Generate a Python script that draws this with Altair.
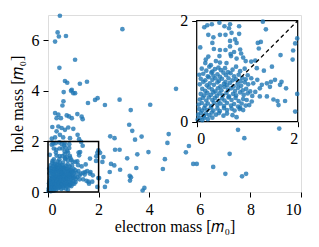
import altair as alt
import pandas as pd

outer_x = [0.47,0.38,0.43,0.71,0.28,2.94,1.07,0.45,0.67,0.76,1.26,1.54,0.94,0.62,0.91,1.0,1.07,0.61,0.57,1.58,1.86,1.96,2.25,2.83,3.27,4.04,
           0.28,0.41,0.34,0.51,0.74,0.83,0.94,1.16,1.33,1.37,0.17,0.41,0.54,0.34,0.67,0.80,1.0,0.47,0.28,0.60,0.87,1.17,1.23,0.15,
           3.21,3.33,2.46,2.63,3.44,3.70,4.77,4.72,5.57,5.45,2.19,2.15,2.65,2.83,3.53,3.97,2.49,2.62,3.13,4.62,5.74,5.88,2.85,2.44,
           3.49,4.54,3.23,3.28,3.24,2.33,2.25,3.81,3.74,2.02,7.51,7.76,9.14,7.18,6.53,7.01,7.67,7.83,5.06,2.06]
outer_y = [6.97,6.31,6.15,6.17,5.95,6.44,5.23,4.91,4.39,4.32,4.28,4.36,4.04,3.95,4.0,3.91,3.91,3.59,3.42,3.52,3.64,3.71,3.44,3.65,3.24,3.45,
           3.12,3.06,2.92,2.92,3.03,2.99,2.92,3.08,2.98,2.88,2.57,2.59,2.53,2.40,2.46,2.55,2.50,2.26,2.16,2.16,2.13,2.26,2.09,2.11,
           2.66,2.42,2.20,2.13,2.07,2.19,2.29,1.94,1.82,1.57,1.38,1.19,1.67,1.67,1.49,1.58,1.11,1.05,1.33,1.30,1.11,1.11,0.88,0.79,
           0.95,0.91,0.64,0.58,0.45,0.42,0.20,0.16,0.06,0.55,2.46,2.13,2.51,1.51,0.99,0.72,0.62,0.72,4.08,1.55]

# points inside the zoom window
inner_x = [0.15,0.21,0.30,0.45,0.55,0.66,0.64,0.84,1.31,1.37,0.07,0.23,0.33,0.46,0.57,0.69,0.84,0.76,0.66,0.31,0.34,0.46,0.57,0.66,
           0.79,0.74,0.86,0.88,0.67,0.45,0.23,0.18,0.17,0.28,0.38,0.46,0.59,0.68,0.79,0.92,0.97,1.16,1.21,1.27,1.23,1.95,1.99,1.91,
           1.66,1.90,1.49,1.08,1.19,1.33,1.55,1.47,1.68,1.77,1.65,1.45,1.39,1.29,1.20,1.25,1.16,1.25,1.39,1.52,1.62,1.60,1.75,1.95,
           1.99,1.09,1.04,0.79,0.92,0.86,
           0.10,0.19,0.25,0.31,0.36,0.43,0.48,0.56,0.62,0.71,0.78,0.86,0.95,
           0.05,0.13,0.22,0.29,0.33,0.41,0.46,0.53,0.58,0.67,0.74,0.83,0.90,1.01,
           0.08,0.17,0.24,0.31,0.37,0.44,0.50,0.57,0.63,0.71,0.78,0.87,0.97,1.08,
           0.06,0.13,0.20,0.26,0.34,0.41,0.47,0.54,0.60,0.66,0.73,0.81,0.88,0.95,1.02,1.12,
           0.11,0.17,0.24,0.30,0.37,0.42,0.49,0.55,0.62,0.68,0.76,0.82,0.91,0.98,1.06,
           0.08,0.15,0.21,0.28,0.33,0.40,0.45,0.52,0.59,0.64,0.72,0.78,0.86,0.93,1.01,1.10,
           0.06,0.12,0.19,0.24,0.31,0.36,0.43,0.50,0.55,0.63,0.69,0.77,0.83,0.92,0.99,
           0.04,0.10,0.17,0.22,0.29,0.34,0.41,0.47,0.54,0.60,0.68,0.74,0.82,0.89,0.97,
           0.05,0.11,0.15,0.21,0.28,0.33,0.41,0.46,0.54,0.60,0.69,0.75,0.85,
           0.03,0.08,0.14,0.18,0.25,0.30,0.38,0.44,0.53,0.60,0.71,
           0.02,0.06,0.11,0.15,0.22,0.31]
inner_y = [1.87,1.91,1.93,1.96,1.89,1.93,1.85,1.89,1.98,1.83,1.47,1.72,1.67,1.72,1.72,1.76,1.74,1.63,1.60,1.56,1.44,1.42,1.42,1.49,
           1.56,1.38,1.43,1.35,1.34,1.30,1.29,1.23,1.16,1.12,1.20,1.17,1.16,1.30,1.25,1.27,1.20,1.21,1.56,1.58,1.45,1.55,1.65,1.41,
           1.32,1.23,1.09,1.19,1.06,1.01,0.83,0.79,0.79,0.66,0.73,0.69,0.76,0.73,0.83,0.66,0.59,0.50,0.50,0.44,0.33,0.41,0.41,0.20,
           0.55,0.40,0.33,0.09,0.23,0.28,
           1.05,1.01,1.09,0.99,1.04,1.07,1.02,1.06,0.98,1.03,1.09,1.00,1.05,
           0.93,0.95,0.90,0.97,0.91,0.94,0.89,0.97,0.92,0.96,0.90,0.93,0.87,0.92,
           0.85,0.82,0.88,0.83,0.86,0.81,0.85,0.79,0.86,0.82,0.84,0.80,0.84,0.86,
           0.74,0.79,0.72,0.76,0.73,0.78,0.70,0.75,0.72,0.77,0.70,0.75,0.71,0.78,0.74,0.76,
           0.65,0.61,0.68,0.64,0.60,0.66,0.62,0.69,0.63,0.66,0.61,0.67,0.62,0.65,0.60,
           0.55,0.52,0.57,0.53,0.58,0.51,0.56,0.52,0.57,0.50,0.55,0.52,0.58,0.53,0.56,0.51,
           0.44,0.47,0.42,0.48,0.43,0.47,0.41,0.46,0.42,0.48,0.43,0.47,0.41,0.45,0.43,
           0.34,0.37,0.32,0.36,0.31,0.38,0.33,0.36,0.31,0.37,0.32,0.35,0.30,0.36,0.32,
           0.25,0.22,0.27,0.23,0.28,0.22,0.26,0.21,0.27,0.23,0.26,0.22,0.25,
           0.14,0.17,0.12,0.16,0.13,0.18,0.14,0.17,0.12,0.16,0.13,
           0.04,0.07,0.03,0.08,0.05,0.08]

x_ticks = [0, 2, 4, 6, 8, 10]
y_ticks = [0, 2, 4, 6]
inset_ticks = [0, 1, 2]

BLUE = "#1f77b4"
FONT = "Liberation Serif"

df = pd.DataFrame({"x": outer_x + inner_x, "y": outer_y + inner_y})
ins = pd.DataFrame({"ix": inner_x, "iy": inner_y})
box = pd.DataFrame({"x": [0], "y": [0], "x2": [2], "y2": [2]})
ibox = pd.DataFrame({"ix": [0], "iy": [0], "ix2": [2], "iy2": [2]})
diag = pd.DataFrame({"ix": [0, 2], "iy": [0, 2]})

W, H = 253, 177
axis_common = dict(grid=False, domain=False, tickColor="black", tickSize=5, tickWidth=1,
                   labelFont=FONT, labelFontSize=16, labelColor="black", labelPadding=4,
                   titleFont=FONT, titleFontSize=16, titleColor="black", titleFontWeight="normal",
                   format="d")

xs = alt.Scale(domain=[0, 10], nice=False)
ys = alt.Scale(domain=[0, 7], nice=False)

main_pts = alt.Chart(df).mark_circle(size=22, opacity=0.8, color=BLUE).encode(
    x=alt.X("x:Q", scale=xs, axis=alt.Axis(values=x_ticks, title="electron mass [𝑚₀]", titlePadding=1, **axis_common)),
    y=alt.Y("y:Q", scale=ys, axis=alt.Axis(values=y_ticks, title="hole mass [𝑚₀]", titlePadding=6, **axis_common)),
)
main_box = alt.Chart(box).mark_rect(fill=None, stroke="black", strokeWidth=1.5).encode(
    x=alt.X("x:Q", scale=xs), y=alt.Y("y:Q", scale=ys), x2="x2:Q", y2="y2:Q"
)
main_layer = alt.layer(main_pts, main_box)

ix0, ix1 = 148.7, 249.7
iy0, iy1 = 106.7, 5.7
isx = alt.Scale(domain=[0, 2], range=[ix0, ix1], nice=False)
isy = alt.Scale(domain=[0, 2], range=[iy0, iy1], nice=False)
iax = alt.Axis(values=inset_ticks, title=None, orient="bottom", offset=-(H - iy0), **axis_common)
iay = alt.Axis(values=inset_ticks, title=None, orient="left", offset=-ix0, **axis_common)

inset_bg = alt.Chart(ibox).mark_rect(fill="white", stroke="black", strokeWidth=1.2).encode(
    x=alt.X("ix:Q", scale=isx, axis=iax), y=alt.Y("iy:Q", scale=isy, axis=iay), x2="ix2:Q", y2="iy2:Q"
)
inset_pts = alt.Chart(ins).mark_circle(size=22, opacity=0.8, color=BLUE).encode(
    x=alt.X("ix:Q", scale=isx), y=alt.Y("iy:Q", scale=isy)
)
inset_line = alt.Chart(diag).mark_line(color="black", strokeDash=[4, 3], strokeWidth=1.3).encode(
    x=alt.X("ix:Q", scale=isx), y=alt.Y("iy:Q", scale=isy)
)
inset_layer = alt.layer(inset_bg, inset_pts, inset_line)

chart = alt.layer(main_layer, inset_layer).resolve_scale(
    x="independent", y="independent"
).properties(
    width=W, height=H,
    autosize=alt.AutoSizeParams(type="none"),
    padding={"left": 40, "top": 7, "right": 10, "bottom": 55},
).configure_view(stroke="black", strokeWidth=1.2).configure(background="white")

chart.save("out.html", embed_options={"renderer": "svg", "actions": False})
